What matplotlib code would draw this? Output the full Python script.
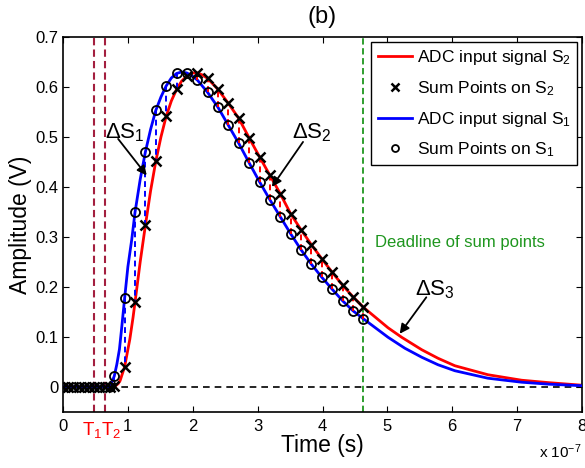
import matplotlib
matplotlib.use('Agg')
import matplotlib.pyplot as plt
from matplotlib.lines import Line2D

plt.rcParams['font.family'] = ['Liberation Sans', 'DejaVu Sans']
plt.rcParams['mathtext.fontset'] = 'custom'
plt.rcParams['mathtext.rm'] = 'Liberation Sans'
plt.rcParams['mathtext.it'] = 'Liberation Sans:italic'
plt.rcParams['mathtext.bf'] = 'Liberation Sans:bold'

# ---- data (time in units of 1e-7 s) ----
s1_t = [0.0, 0.70, 0.74, 0.79, 0.83, 0.87, 0.90, 0.95, 1.00, 1.06, 1.11, 1.19, 1.27, 1.35,
        1.43, 1.51, 1.59, 1.67, 1.75, 1.83, 1.91, 1.99, 2.07, 2.23, 2.39, 2.55, 2.71, 2.87,
        3.03, 3.19, 3.35, 3.51, 3.67, 3.83, 3.99, 4.15, 4.31, 4.47, 4.63, 5.01, 5.27, 5.53,
        5.78, 6.04, 6.55, 7.07, 7.50, 8.00]
s1_v = [0.0, 0.0, 0.005, 0.021, 0.045, 0.075, 0.112, 0.177, 0.240, 0.295, 0.349, 0.415, 0.470, 0.515,
        0.553, 0.580, 0.602, 0.618, 0.627, 0.630, 0.628, 0.622, 0.614, 0.589, 0.559, 0.523, 0.487, 0.448,
        0.410, 0.374, 0.340, 0.306, 0.274, 0.245, 0.219, 0.195, 0.172, 0.152, 0.136, 0.099, 0.077, 0.059,
        0.044, 0.032, 0.017, 0.009, 0.005, 0.002]

s2_t = [0.0, 0.78, 0.80, 0.85, 0.88, 0.95, 1.03, 1.08, 1.11, 1.19, 1.27, 1.35, 1.43, 1.51,
        1.59, 1.67, 1.75, 1.83, 1.91, 1.99, 2.07, 2.15, 2.23, 2.39, 2.55, 2.71, 2.87, 3.03,
        3.19, 3.35, 3.51, 3.67, 3.83, 3.99, 4.15, 4.31, 4.47, 4.63, 5.01, 5.22, 5.53, 5.78,
        6.04, 6.55, 7.07, 7.50, 8.00]
s2_v = [0.0, 0.0, 0.001, 0.006, 0.012, 0.040, 0.095, 0.139, 0.169, 0.250, 0.323, 0.392, 0.451, 0.500,
        0.541, 0.572, 0.595, 0.612, 0.622, 0.628, 0.628, 0.624, 0.617, 0.595, 0.567, 0.537, 0.498, 0.460,
        0.423, 0.386, 0.346, 0.314, 0.284, 0.256, 0.229, 0.203, 0.180, 0.159, 0.118, 0.099, 0.074, 0.057,
        0.042, 0.024, 0.013, 0.008, 0.003]

sample_t = [0.79, 0.95, 1.11, 1.27, 1.43, 1.59, 1.75, 1.91, 2.07, 2.23, 2.39, 2.55, 2.71,
            2.87, 3.03, 3.19, 3.35, 3.51, 3.67, 3.83, 3.99, 4.15, 4.31, 4.47, 4.63]
sum1 = [0.021, 0.177, 0.349, 0.470, 0.553, 0.602, 0.627, 0.628, 0.614, 0.589, 0.559, 0.523, 0.487,
        0.448, 0.410, 0.374, 0.340, 0.306, 0.274, 0.245, 0.219, 0.195, 0.172, 0.152, 0.136]
sum2 = [0.001, 0.040, 0.169, 0.323, 0.451, 0.541, 0.595, 0.622, 0.628, 0.617, 0.595, 0.567, 0.537,
        0.498, 0.460, 0.423, 0.386, 0.346, 0.314, 0.284, 0.256, 0.229, 0.203, 0.180, 0.159]

flat_t = [0.0, 0.08, 0.16, 0.24, 0.32, 0.40, 0.48, 0.56, 0.64, 0.72]
flat_v = [0.0, 0.0, 0.0, 0.0, 0.0, 0.0, 0.0, 0.0, 0.0, 0.0]

t_markers = [0.48, 0.64]
t_labels = ['T$_\\mathregular{1}$', 'T$_\\mathregular{2}$']
t_label_x = [0.45, 0.74]
deadline_t = 4.63

x_ticks = [0, 1, 2, 3, 4, 5, 6, 7, 8]
y_ticks = [0, 0.1, 0.2, 0.3, 0.4, 0.5, 0.6, 0.7]
y_tick_labels = ['0', '0.1', '0.2', '0.3', '0.4', '0.5', '0.6', '0.7']

RED = '#FF0000'
BLUE = '#0000FF'
DARKRED = '#A31F3F'
GREEN = '#1E961E'

fig = plt.figure(figsize=(5.85, 4.68), dpi=100)
ax = fig.add_axes([63 / 585, (468 - 411.7) / 468, (582 - 63) / 585, (411.7 - 37) / 468])

ax.set_xlim(0, 8)
ax.set_ylim(-0.05, 0.7)

# reference lines
ax.axhline(0, color='black', lw=1.2, ls=(0, (4, 3)), zorder=1)
for tm in t_markers:
    ax.axvline(tm, color=DARKRED, lw=1.5, ls=(0, (3.5, 2)), zorder=1)
ax.axvline(deadline_t, color=GREEN, lw=1.3, ls=(0, (3.5, 2)), zorder=1)

# curves
ax.plot(s2_t, s2_v, color=RED, lw=2.0, zorder=2)
ax.plot(s1_t, s1_v, color=BLUE, lw=2.0, zorder=3)

# difference segments
for t, a, b in zip(sample_t, sum1, sum2):
    c = BLUE if a > b else RED
    ax.plot([t, t], [a, b], color=c, lw=1.4, ls=(0, (3, 2)), zorder=4)

# sum points
ax.plot(flat_t, flat_v, ls='none', marker='o', ms=6, mfc='none', mec='black', mew=1.3, zorder=5)
ax.plot(flat_t, flat_v, ls='none', marker='x', ms=7, mec='black', mew=1.8, zorder=5)
ax.plot(sample_t, sum2, ls='none', marker='x', ms=7.5, mec='black', mew=1.8, zorder=5)
ax.plot(sample_t, sum1, ls='none', marker='o', ms=6.5, mfc='none', mec='black', mew=1.3, zorder=5)

# ticks
ax.set_xticks(x_ticks)
ax.set_xticklabels([str(v) for v in x_ticks])
ax.set_yticks(y_ticks)
ax.set_yticklabels(y_tick_labels)
ax.tick_params(direction='in', length=4, width=0.8, top=True, right=True, labelsize=12)
ax.tick_params(axis='x', pad=5)
ax.tick_params(axis='y', pad=3)
for sp in ax.spines.values():
    sp.set_linewidth(1.2)

ax.set_xlabel('Time (s)', fontsize=16.5, labelpad=0)
ax.set_ylabel('Amplitude (V)', fontsize=16.5, labelpad=3)
ax.set_title('(b)', fontsize=17, pad=10)

ax.text(1.0, -0.107, 'x 10$^\\mathregular{-7}$', transform=ax.transAxes, ha='right', va='center',
        fontsize=11)

# T labels
for lbl, xx in zip(t_labels, t_label_x):
    ax.text(xx, -0.048, lbl, transform=ax.get_xaxis_transform(), ha='center', va='center',
            color=RED, fontsize=13.5)

# deadline text
ax.text(4.81, 0.289, 'Deadline of sum points', color=GREEN, fontsize=12, ha='left', va='center')

# Delta annotations
arrow_kw = dict(arrowstyle='-|>', color='black', lw=1.3, mutation_scale=14, shrinkA=0, shrinkB=0)
ax.annotate('', xy=(1.29, 0.423), xytext=(0.85, 0.496), arrowprops=arrow_kw, zorder=6)
ax.text(0.64, 0.508, '$\\Delta$S$_\\mathregular{1}$', fontsize=16, ha='left', va='center')
ax.annotate('', xy=(3.22, 0.40), xytext=(3.70, 0.49), arrowprops=arrow_kw, zorder=6)
ax.text(3.53, 0.508, '$\\Delta$S$_\\mathregular{2}$', fontsize=16, ha='left', va='center')
ax.annotate('', xy=(5.19, 0.106), xytext=(5.60, 0.179), arrowprops=arrow_kw, zorder=6)
ax.text(5.43, 0.194, '$\\Delta$S$_\\mathregular{3}$', fontsize=16, ha='left', va='center')

# legend
handles = [
    Line2D([], [], color=RED, lw=2),
    Line2D([], [], ls='none', marker='x', ms=6, mec='black', mew=1.8),
    Line2D([], [], color=BLUE, lw=2),
    Line2D([], [], ls='none', marker='o', ms=5, mfc='none', mec='black', mew=1.3),
]
labels = ['ADC input signal S$_\\mathregular{2}$', 'Sum Points on S$_\\mathregular{2}$',
          'ADC input signal S$_\\mathregular{1}$', 'Sum Points on S$_\\mathregular{1}$']
leg = ax.legend(handles, labels, loc='upper right', fontsize=12.5, frameon=True, fancybox=False,
                edgecolor='black', framealpha=1, borderaxespad=0.3, handlelength=2.0,
                handletextpad=0.25, labelspacing=0.68, borderpad=0.35, numpoints=1)
leg.get_frame().set_linewidth(1.0)

fig.savefig('out.png', dpi=100)
